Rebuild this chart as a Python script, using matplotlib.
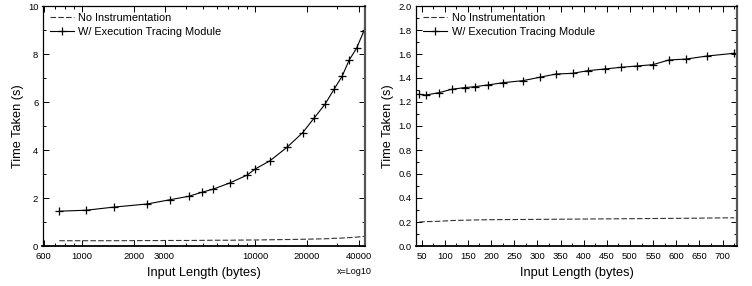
import matplotlib
matplotlib.use("Agg")
import matplotlib.pyplot as plt
from matplotlib.ticker import FixedLocator, NullFormatter, MultipleLocator, LogLocator, FormatStrFormatter

plt.rcParams['font.family'] = ['Liberation Sans', 'DejaVu Sans']

# Left panel data (log x)
left_x = [739, 1055, 1525, 2375, 3239, 4139, 4939, 5741, 7169, 8990, 10040,
          12210, 15370, 18870, 21930, 25380, 28730, 31960, 35090, 38720, 42660]
left_trace = [1.45, 1.49, 1.62, 1.75, 1.93, 2.07, 2.24, 2.37, 2.63, 2.95, 3.21,
              3.55, 4.12, 4.72, 5.32, 5.90, 6.54, 7.08, 7.75, 8.24, 8.96]
left_noinst = [0.22, 0.22, 0.22, 0.225, 0.23, 0.23, 0.235, 0.24, 0.24, 0.25, 0.25,
               0.26, 0.27, 0.28, 0.29, 0.30, 0.32, 0.33, 0.35, 0.37, 0.40]
left_xticks = [600, 1000, 2000, 3000, 10000, 20000, 40000]

# Right panel data (linear x)
right_x = [45, 59, 88, 115, 143, 166, 193, 226, 269, 305, 340, 376, 409, 445,
           480, 515, 549, 584, 621, 666, 725]
right_trace = [1.264, 1.258, 1.278, 1.306, 1.32, 1.328, 1.342, 1.361, 1.378, 1.406,
               1.433, 1.439, 1.461, 1.475, 1.489, 1.50, 1.511, 1.55, 1.558, 1.583, 1.606]
right_noinst = [0.20, 0.203, 0.206, 0.212, 0.215, 0.217, 0.219, 0.220, 0.221, 0.222,
                0.223, 0.224, 0.225, 0.226, 0.227, 0.228, 0.229, 0.230, 0.231, 0.233, 0.235]

labels = ["No Instrumentation", "W/ Execution Tracing Module"]

fig = plt.figure(figsize=(7.52, 2.86), dpi=100)
axL = fig.add_axes([42.5/752, 1-246/286, (365-42.5)/752, 240/286])
axR = fig.add_axes([416/752, 1-246/286, (737-416)/752, 240/286])

def style(ax):
    ax.tick_params(which='both', direction='in', top=True, right=True, labelsize=6.8,
                   width=0.7, colors='black', pad=3)
    ax.tick_params(axis='x', which='both', pad=4.5)
    ax.tick_params(which='major', length=4)
    ax.tick_params(which='minor', length=2)
    for s in ['left', 'top']:
        ax.spines[s].set_linewidth(0.9)
    ax.spines['right'].set_linewidth(1.6)
    ax.spines['right'].set_color('#555555')
    ax.spines['bottom'].set_linewidth(1.3)
    ax.set_xlabel("Input Length (bytes)", fontsize=9.2, labelpad=4)
    ax.set_ylabel("Time Taken (s)", fontsize=9.2, labelpad=3)

for ax, xs, tr, ni in [(axL, left_x, left_trace, left_noinst), (axR, right_x, right_trace, right_noinst)]:
    ax.plot(xs, ni, color='#333333', lw=0.8, ls=(0, (5, 2)), label=labels[0])
    ax.plot(xs, tr, color='black', lw=0.8, marker='+', ms=6, mew=0.9, label=labels[1])
    style(ax)
    ax.legend(loc='upper left', frameon=False, fontsize=7.9, handlelength=2.2,
              handletextpad=0.4, borderaxespad=0.4, labelspacing=0.35,
              borderpad=0.25)

axL.set_xscale('log')
axL.set_xlim(591, 43300)
axL.set_ylim(0, 10)
axL.xaxis.set_major_locator(FixedLocator(left_xticks))
axL.set_xticklabels([str(v) for v in left_xticks])
axL.xaxis.set_minor_locator(LogLocator(base=10, subs=range(1, 10)))
axL.xaxis.set_minor_formatter(NullFormatter())
axL.yaxis.set_major_locator(MultipleLocator(2))
axL.yaxis.set_minor_locator(MultipleLocator(1))
axL.text(354/752, 1-271/286, "x=Log10", transform=fig.transFigure, fontsize=6.5,
         ha='center', va='center')

axR.set_xlim(38, 731)
axR.set_ylim(0, 2.0)
axR.xaxis.set_major_locator(MultipleLocator(50))
axR.xaxis.set_minor_locator(MultipleLocator(25))
axR.yaxis.set_major_locator(MultipleLocator(0.2))
axR.yaxis.set_minor_locator(MultipleLocator(0.1))
axR.yaxis.set_major_formatter(FormatStrFormatter('%.1f'))

fig.savefig("out.png", dpi=100)
